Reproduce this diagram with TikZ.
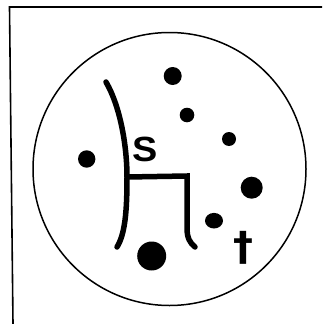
\documentclass[tikz,border=0pt]{standalone}
\usepackage{fontspec}
\setmainfont{Liberation Sans}
\newfontfamily\dagfont{DejaVu Sans}
\begin{document}
\begin{tikzpicture}[x=1pt,y=-1pt,
  frameline/.style={line width=1.6pt},
  ring/.style={line width=1.5pt},
  chair/.style={line width=5.5pt,line cap=round,line join=miter},
  dot/.style={fill=black},
  lbl/.style={inner sep=0pt,outer sep=0pt,anchor=center}]
\useasboundingbox (0,0) rectangle (322,324);
% partial frame
\draw[frameline] (322,7) -- (9.5,7) -- (13,324);
% circle
\draw[ring] (169.5,169) circle[radius=136.5];
% dots
\fill[dot] (172.7,76) circle[radius=9];
\fill[dot] (187,115) circle[radius=7.3];
\fill[dot] (229,139) circle[radius=7];
\fill[dot] (86.7,159) circle[radius=8.7];
\fill[dot] (251.7,187.7) circle[radius=11];
\fill[dot] (214,220.7) ellipse[x radius=9,y radius=7.8];
\fill[dot] (151.7,256) circle[radius=14.5];
% chair-like slit
\draw[chair] (106,82) .. controls (121,108) and (127,148) .. (127,177)
  .. controls (127,212) and (125,234) .. (117,247);
\draw[chair] (127,177) -- (187,176) -- (187,228)
  .. controls (187,238) and (190,243) .. (195,247);
% labels
\node[lbl,xscale=1.08] (s) at (145.5,149) {\fontsize{35}{35}\selectfont\bfseries S};
\node[lbl] (t) at (243,248) {\fontsize{40}{40}\selectfont\dagfont\bfseries †};
\end{tikzpicture}
\end{document}
